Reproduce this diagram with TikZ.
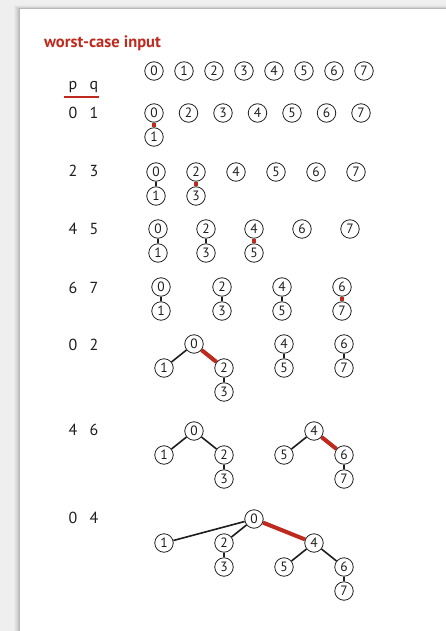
\documentclass[tikz,border=0pt]{standalone}
\usepackage{fontspec}
\setmainfont{PT Sans}
\definecolor{bookred}{RGB}{190,42,30}
\definecolor{bggray}{RGB}{239,239,239}
\definecolor{ink}{RGB}{30,30,30}
\begin{document}
\begin{tikzpicture}[x=1pt,y=-1pt,
  nd/.style={circle,draw=ink,line width=0.8pt,minimum size=18.5pt,inner sep=0pt,fill=white,
    font=\fontsize{13.5}{13.5}\selectfont,text=ink},
  lbl/.style={font=\fontsize{16}{16}\selectfont,text=ink,inner sep=0pt,anchor=base},
  blk/.style={draw=ink,line width=1.6pt},
  vblk/.style={draw=ink,line width=1.9pt},
  red/.style={draw=bookred,line width=4pt}]
\useasboundingbox (0,0) rectangle (446,631);
\fill[bggray] (0,0) rectangle (446,631);
\foreach \i/\o in {6/0.025,5/0.03,4/0.035,3/0.04,2/0.05,1/0.06}{
  \fill[black,opacity=\o] (20-\i,9-\i*0.6) rectangle (446,631);
}
\fill[white] (20,9) rectangle (446,631);
\node[font=\bfseries\fontsize{16.5}{16.5}\selectfont,text=bookred,anchor=base west,inner sep=0pt] (title) at (44,48) {worst-case input};
% header
\node[lbl] (hp) at (73,90) {p};
\node[lbl] (hq) at (94,90) {q};
\coordinate (ulA) at (64,97);
\coordinate (ulB) at (99,97);
\draw[draw=bookred,line width=1.4pt] (ulA) -- (ulB);
% row labels
\foreach \r/\y/\a/\b in {1/119/0/1,2/177/2/3,3/234/4/5,4/293/6/7,5/350/0/2,6/435/4/6,7/523/0/4}{
  \node[lbl] (la\r) at (73,\y) {\a};
  \node[lbl] (lb\r) at (94,\y) {\b};
}
% row 0
\foreach \i in {0,...,7}{\node[nd] (a\i) at ({154+30*\i},71) {\i};}
% row 1 : 0-1
\node[nd] (b0) at (154,113) {0};
\node[nd] (b1) at (154,137) {1};
\node[nd] (b2) at (188.5,113) {2};
\node[nd] (b3) at (223,113) {3};
\node[nd] (b4) at (257.5,113) {4};
\node[nd] (b5) at (292,113) {5};
\node[nd] (b6) at (326.5,113) {6};
\node[nd] (b7) at (361,113) {7};
\draw[red] (b0) -- (b1);
% row 2 : 2-3
\node[nd] (c0) at (156,172) {0};
\node[nd] (c1) at (156,196) {1};
\node[nd] (c2) at (196,172) {2};
\node[nd] (c3) at (196,196) {3};
\node[nd] (c4) at (236,172) {4};
\node[nd] (c5) at (276,172) {5};
\node[nd] (c6) at (316,172) {6};
\node[nd] (c7) at (356,172) {7};
\draw[vblk] (c0) -- (c1);
\draw[red] (c2) -- (c3);
% row 3 : 4-5
\node[nd] (d0) at (158,229) {0};
\node[nd] (d1) at (158,253) {1};
\node[nd] (d2) at (206,229) {2};
\node[nd] (d3) at (206,253) {3};
\node[nd] (d4) at (254,229) {4};
\node[nd] (d5) at (254,253) {5};
\node[nd] (d6) at (302,229) {6};
\node[nd] (d7) at (350,229) {7};
\draw[vblk] (d0) -- (d1);
\draw[vblk] (d2) -- (d3);
\draw[red] (d4) -- (d5);
% row 4 : 6-7
\node[nd] (e0) at (161,287) {0};
\node[nd] (e1) at (161,311) {1};
\node[nd] (e2) at (222,287) {2};
\node[nd] (e3) at (222,311) {3};
\node[nd] (e4) at (282,287) {4};
\node[nd] (e5) at (282,311) {5};
\node[nd] (e6) at (342,287) {6};
\node[nd] (e7) at (342,311) {7};
\draw[vblk] (e0) -- (e1);
\draw[vblk] (e2) -- (e3);
\draw[vblk] (e4) -- (e5);
\draw[red] (e6) -- (e7);
% row 5 : 0-2
\node[nd] (f0) at (194,344) {0};
\node[nd] (f1) at (164,368) {1};
\node[nd] (f2) at (224,368) {2};
\node[nd] (f3) at (224,392) {3};
\node[nd] (f4) at (284,344) {4};
\node[nd] (f5) at (284,368) {5};
\node[nd] (f6) at (344,344) {6};
\node[nd] (f7) at (344,368) {7};
\draw[blk] (f0) -- (f1);
\draw[red] (f0) -- (f2);
\draw[vblk] (f2) -- (f3);
\draw[vblk] (f4) -- (f5);
\draw[vblk] (f6) -- (f7);
% row 6 : 4-6
\node[nd] (g0) at (194,431) {0};
\node[nd] (g1) at (164,455) {1};
\node[nd] (g2) at (224,455) {2};
\node[nd] (g3) at (224,479) {3};
\node[nd] (g4) at (314,431) {4};
\node[nd] (g5) at (284,455) {5};
\node[nd] (g6) at (344,455) {6};
\node[nd] (g7) at (344,479) {7};
\draw[blk] (g0) -- (g1);
\draw[blk] (g0) -- (g2);
\draw[vblk] (g2) -- (g3);
\draw[blk] (g4) -- (g5);
\draw[red] (g4) -- (g6);
\draw[vblk] (g6) -- (g7);
% row 7 : 0-4
\node[nd] (h0) at (254,519) {0};
\node[nd] (h1) at (164,543) {1};
\node[nd] (h2) at (224,543) {2};
\node[nd] (h3) at (224,567) {3};
\node[nd] (h4) at (314,543) {4};
\node[nd] (h5) at (284,567) {5};
\node[nd] (h6) at (344,567) {6};
\node[nd] (h7) at (344,591) {7};
\draw[blk] (h0) -- (h1);
\draw[blk] (h0) -- (h2);
\draw[vblk] (h2) -- (h3);
\draw[red] (h0) -- (h4);
\draw[blk] (h4) -- (h5);
\draw[blk] (h4) -- (h6);
\draw[vblk] (h6) -- (h7);
\end{tikzpicture}
\end{document}
